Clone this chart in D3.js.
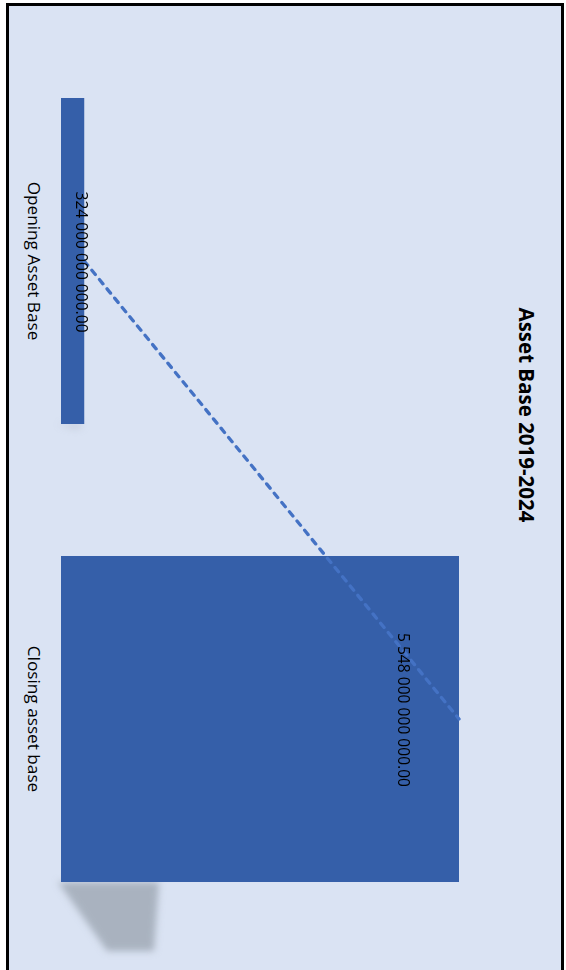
<!DOCTYPE html>
<html>
<head>
<meta charset="utf-8">
<script src="https://cdn.jsdelivr.net/npm/d3@7"></script>
<style>
  html, body { margin: 0; padding: 0; background: #ffffff; }
  svg { display: block; }
</style>
</head>
<body>
<div id="chart"></div>
<script>
// chart data
var categories = ['Opening Asset Base', 'Closing asset base'];
var values = [324000000000, 5548000000000];
var value_labels = ['324 000 000 000.00', '5 548 000 000 000.00'];
var chart_title = 'Asset Base 2019-2024';

var W = 566, H = 970;

var svg = d3.select('#chart').append('svg')
   .attr('width', W).attr('height', H);

var defs = svg.append('defs');
defs.append('filter').attr('id', 'blur')
   .attr('x', '-50%').attr('y', '-50%').attr('width', '200%').attr('height', '200%')
   .append('feGaussianBlur').attr('stdDeviation', 3.5);

// frame
svg.append('rect')
   .attr('x', 7.5).attr('y', 4.5)
   .attr('width', 555).attr('height', 990)
   .attr('fill', '#dae3f3')
   .attr('stroke', '#000').attr('stroke-width', 3);

// scales: chart is drawn rotated, categories run down the page, values grow right
var y = d3.scaleBand().domain(categories).range([32, 948])
   .paddingInner(0.2882).paddingOuter(0.1441);
var x = d3.scaleLinear().domain([0, d3.max(values)]).range([61, 459]);

// shadow below the bars
var sh = svg.append('g').attr('filter', 'url(#blur)');
categories.forEach(function(c, i){
   var b = y(c) + y.bandwidth();
   var w = x(values[i]) - x(0);
   var depth = Math.min(69, w * 0.18);
   var right = x(0) + Math.min(w, 98);
   sh.append('path')
     .attr('d', 'M' + (x(0) - 3) + ',' + b +
                'L' + right + ',' + b +
                'L' + (right - 5) + ',' + (b + depth) +
                'L' + (x(0) + (right - x(0)) * 0.47) + ',' + (b + depth) + 'Z')
     .attr('fill', '#a9b2bf')
     .attr('opacity', i == 0 ? 0.5 : 1);
});

// bars
svg.selectAll('rect.bar')
   .data(values)
   .enter().append('rect')
   .attr('class', 'bar')
   .attr('x', x(0))
   .attr('y', function(d, i){ return y(categories[i]); })
   .attr('width', function(d){ return x(d) - x(0); })
   .attr('height', y.bandwidth())
   .attr('fill', '#355fa9');

// trend line between bar ends
var line = d3.line()
   .x(function(d){ return x(d); })
   .y(function(d, i){ return y(categories[i]) + y.bandwidth() / 2; });
svg.append('path')
   .datum(values)
   .attr('d', line)
   .attr('fill', 'none')
   .attr('stroke', '#4472c4')
   .attr('stroke-width', 3.3)
   .attr('stroke-linecap', 'round')
   .attr('stroke-dasharray', '5.5,6.5');

// value labels
var lbl_dx = [-2, -55], lbl_dy = [1, -9];
value_labels.forEach(function(t, i){
   var cx = x(values[i]) + lbl_dx[i];
   var cy = y(categories[i]) + y.bandwidth() / 2 + lbl_dy[i];
   svg.append('text')
     .attr('transform', 'translate(' + cx + ',' + cy + ') rotate(90)')
     .attr('text-anchor', 'middle')
     .attr('dominant-baseline', 'central')
     .attr('font-family', 'Open Sans, sans-serif')
     .attr('font-size', 15.6)
     .attr('fill', '#000')
     .text(t);
});

// category labels
categories.forEach(function(c){
   svg.append('text')
     .attr('transform', 'translate(34,' + (y(c) + y.bandwidth() / 2) + ') rotate(90)')
     .attr('text-anchor', 'middle')
     .attr('dominant-baseline', 'central')
     .attr('font-family', 'Open Sans, sans-serif')
     .attr('font-size', 17.2)
     .attr('fill', '#000')
     .text(c);
});

// title
svg.append('text')
   .attr('transform', 'translate(527,415) rotate(90)')
   .attr('text-anchor', 'middle')
   .attr('dominant-baseline', 'central')
   .attr('font-family', 'Open Sans, sans-serif')
   .attr('font-weight', 'bold')
   .attr('font-size', 20.5)
   .attr('fill', '#000')
   .text(chart_title);
</script>
</body>
</html>
